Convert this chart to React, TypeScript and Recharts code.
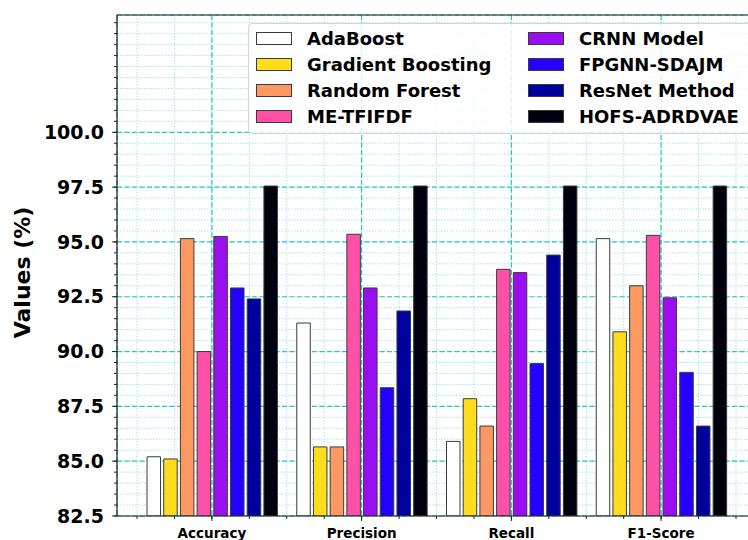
import { BarChart, Bar, XAxis, YAxis, CartesianGrid, Label } from 'recharts'

// metrics on the x axis
const CATEGORIES = ['Accuracy', 'Precision', 'Recall', 'F1-Score']

// scores (%) per model, in CATEGORIES order
const ADABOOST = [85.2, 91.3, 85.9, 95.15]
const GRADIENT_BOOSTING = [85.1, 85.65, 87.85, 90.9]
const RANDOM_FOREST = [95.15, 85.65, 86.6, 93.0]
const ME_TFIFDF = [90.0, 95.35, 93.75, 95.3]
const CRNN = [95.25, 92.9, 93.6, 92.45]
const FPGNN_SDAJM = [92.9, 88.35, 89.45, 89.05]
const RESNET = [92.4, 91.85, 94.4, 86.6]
const HOFS_ADRDVAE = [97.55, 97.55, 97.55, 97.55]

const Y_TICKS = [82.5, 85.0, 87.5, 90.0, 92.5, 95.0, 97.5, 100.0]
const Y_MIN = 82.5
const Y_MAX = 105.35

const MODELS = [
  { key: 'adaboost', name: 'AdaBoost', values: ADABOOST, color: '#ffffff' },
  { key: 'gb', name: 'Gradient Boosting', values: GRADIENT_BOOSTING, color: '#ffdd1c' },
  { key: 'rf', name: 'Random Forest', values: RANDOM_FOREST, color: '#ff9962' },
  { key: 'me', name: 'ME-TFIFDF', values: ME_TFIFDF, color: '#ff50a8' },
  { key: 'crnn', name: 'CRNN Model', values: CRNN, color: '#990ff0' },
  { key: 'fpgnn', name: 'FPGNN-SDAJM', values: FPGNN_SDAJM, color: '#2300ff' },
  { key: 'resnet', name: 'ResNet Method', values: RESNET, color: '#00009e' },
  { key: 'hofs', name: 'HOFS-ADRDVAE', values: HOFS_ADRDVAE, color: '#00000f' },
]

const rows = CATEGORIES.map((metric, i) => {
  const row: Record<string, string | number> = { metric, pos: i }
  MODELS.forEach(m => { row[m.key] = m.values[i] })
  return row
})

// layout
const CHART_W = 780
const CHART_H = 540
const MARGIN = { top: 15, right: 24, bottom: 24, left: 117 }
const THIN = 0.01 // axes take (almost) no room, so they all sit on the plot edge
const CAT_PAD = 20
const FONT = 'DejaVu Sans, sans-serif'
const AXIS_COLOR = '#222'
const EDGE = '#3a3a3a'

// numeric axis lined up with the category bands, used for the minor grid
const plotW = CHART_W - MARGIN.left - MARGIN.right
const band = (plotW - 2 * CAT_PAD) / CATEGORIES.length
const X_LO = -(CAT_PAD / band + 0.5)
const X_HI = X_LO + plotW / band
const X_MINOR: number[] = []
for (let v = -0.5; v <= CATEGORIES.length - 0.5; v += 0.25) X_MINOR.push(v)
const Y_MINOR: number[] = []
for (let v = Y_MIN; v <= Y_MAX; v += 0.5) Y_MINOR.push(v)

const blank = () => ''

function YLabel({ viewBox }: any) {
  const cx = viewBox.x + viewBox.width - 94.5
  const cy = viewBox.y + viewBox.height / 2 + 7
  return (
    <text
      x={cx} y={cy}
      transform={`rotate(-90, ${cx}, ${cy})`}
      textAnchor="middle"
      dominantBaseline="central"
      style={{ fontFamily: FONT, fontWeight: 'bold', fontSize: 22, fill: '#000' }}
    >
      Values (%)
    </text>
  )
}

function LegendBox() {
  const col = (items: typeof MODELS, left: number) => (
    <div style={{ position: 'absolute', left, top: 1 }}>
      {items.map(m => (
        <div key={m.key} style={{ display: 'flex', alignItems: 'center', height: 26 }}>
          <div style={{
            width: 34, height: 11, background: m.color,
            border: `1px solid ${EDGE}`, marginRight: 15,
          }} />
          <span style={{ fontFamily: FONT, fontWeight: 'bold', fontSize: 18, color: '#000' }}>
            {m.name}
          </span>
        </div>
      ))}
    </div>
  )
  return (
    <div style={{
      position: 'absolute', left: 248, top: 23, width: 506, height: 109,
      background: 'rgba(255,255,255,0.82)', border: '1px solid #d4d4d4', borderRadius: 4,
    }}>
      {col(MODELS.slice(0, 4), 7)}
      {col(MODELS.slice(4), 279)}
    </div>
  )
}

export default function App() {
  return (
    <div style={{ position: 'absolute', left: 0, top: 0, width: 748, height: 540, overflow: 'hidden', background: '#fff' }}>
      <BarChart
        width={CHART_W}
        height={CHART_H}
        data={rows}
        margin={MARGIN}
        barGap={3.2}
        barSize={13.5}
      >
        <CartesianGrid
          xAxisId="minorX" yAxisId="minorY"
          stroke="#a6e4e8" strokeDasharray="1.5 1.5"
        />
        <CartesianGrid
          xAxisId="cat" yAxisId="val"
          stroke="#22c8cc" strokeWidth={1.2} strokeDasharray="5 2.5"
        />

        <XAxis
          xAxisId="minorX" type="number" dataKey="pos"
          domain={[X_LO, X_HI]} allowDataOverflow ticks={X_MINOR} interval={0}
          height={THIN} axisLine={false} tickSize={3} tickFormatter={blank}
          tickLine={{ stroke: AXIS_COLOR }}
        />
        <XAxis
          xAxisId="top" orientation="top" dataKey="metric"
          height={THIN} tick={false} tickLine={false}
          axisLine={{ stroke: AXIS_COLOR, strokeWidth: 1.2 }}
        />
        <YAxis
          yAxisId="minorY" type="number" domain={[Y_MIN, Y_MAX]} allowDataOverflow
          ticks={Y_MINOR} interval={0} width={THIN} axisLine={false}
          tickSize={3} tickFormatter={blank} tickLine={{ stroke: AXIS_COLOR }}
        />
        <XAxis
          xAxisId="cat" dataKey="metric" padding={{ left: CAT_PAD, right: CAT_PAD }}
          height={THIN} interval={0} tickSize={5} tickMargin={7}
          tick={{ fontFamily: FONT, fontWeight: 'bold', fontSize: 13.5, fill: '#000' }}
          tickLine={{ stroke: AXIS_COLOR }}
          axisLine={{ stroke: AXIS_COLOR, strokeWidth: 1.2 }}
        />
        <YAxis
          yAxisId="val" type="number" domain={[Y_MIN, Y_MAX]} allowDataOverflow
          ticks={Y_TICKS} interval={0} width={THIN} tickSize={5} tickMargin={8}
          tickFormatter={(v: number) => v.toFixed(1)}
          tick={{ fontFamily: FONT, fontWeight: 'bold', fontSize: 19, fill: '#000' }}
          tickLine={{ stroke: AXIS_COLOR }}
          axisLine={{ stroke: AXIS_COLOR, strokeWidth: 1.2 }}
        >
          <Label content={<YLabel />} />
        </YAxis>

        {MODELS.map(m => (
          <Bar
            key={m.key}
            dataKey={m.key}
            name={m.name}
            xAxisId="cat"
            yAxisId="val"
            fill={m.color}
            stroke={EDGE}
            strokeWidth={1}
            isAnimationActive={false}
          />
        ))}
      </BarChart>
      <LegendBox />
    </div>
  )
}
